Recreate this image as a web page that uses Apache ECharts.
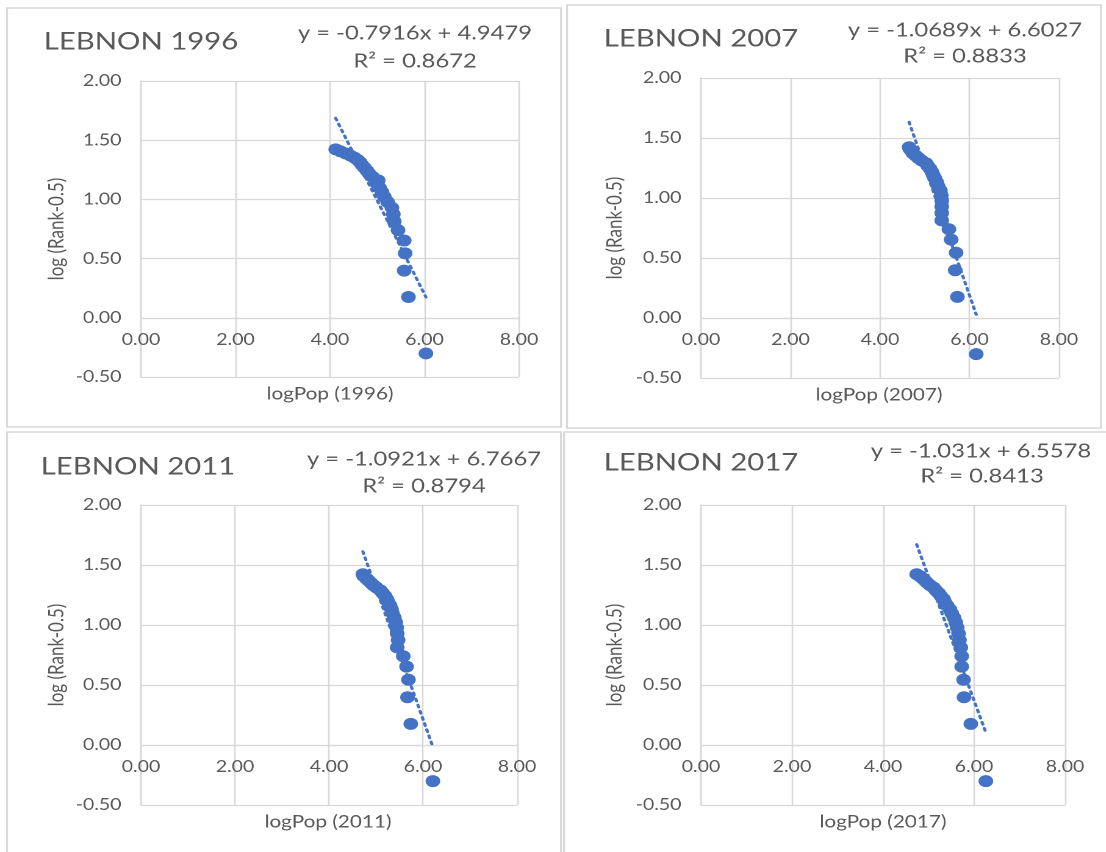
<!DOCTYPE html>
<html>
<head>
<meta charset="utf-8">
<script src="https://cdn.jsdelivr.net/npm/echarts@6/dist/echarts.min.js"></script>
<style>
html,body{margin:0;padding:0;background:#fff;overflow:hidden;}
#c{position:absolute;left:0;top:0;height:852px;transform-origin:0 0;}
</style>
</head>
<body>
<div id="c"></div>
<script>
// ---- data ----
const years = ['1996', '2007', '2011', '2017'];
const rankY = [-0.301, 0.176, 0.398, 0.544, 0.653, 0.740, 0.813, 0.875, 0.929, 0.978,
  1.021, 1.061, 1.097, 1.130, 1.161, 1.190, 1.217, 1.243, 1.267, 1.290,
  1.312, 1.332, 1.352, 1.371, 1.389, 1.407, 1.423];
const x1996 = [6.03, 5.66, 5.57, 5.59, 5.57, 5.44, 5.36, 5.34, 5.31, 5.22,
  5.15, 5.10, 5.05, 5.00, 5.02, 4.90, 4.83, 4.78, 4.73, 4.68,
  4.64, 4.59, 4.52, 4.43, 4.33, 4.22, 4.12];
const x2007 = [6.15, 5.73, 5.68, 5.70, 5.59, 5.54, 5.38, 5.38, 5.38, 5.38,
  5.37, 5.35, 5.30, 5.27, 5.23, 5.19, 5.16, 5.12, 5.07, 5.03,
  4.93, 4.86, 4.80, 4.74, 4.71, 4.67, 4.65];
const x2011 = [6.21, 5.74, 5.67, 5.69, 5.65, 5.58, 5.45, 5.47, 5.45, 5.44,
  5.42, 5.39, 5.35, 5.33, 5.30, 5.26, 5.23, 5.19, 5.14, 5.09,
  5.01, 4.94, 4.89, 4.84, 4.79, 4.74, 4.72];
const x2017 = [6.26, 5.93, 5.78, 5.77, 5.73, 5.73, 5.71, 5.68, 5.66, 5.63,
  5.60, 5.56, 5.51, 5.47, 5.41, 5.36, 5.33, 5.27, 5.22, 5.16,
  5.11, 5.03, 4.97, 4.92, 4.87, 4.81, 4.74];
const slopes = [-0.7916, -1.0689, -1.0921, -1.031];
const intercepts = [4.9479, 6.6027, 6.7667, 6.5578];
const r2Text = ['0.8672', '0.8833', '0.8794', '0.8413'];
const slopeText = ['-0.7916', '-1.0689', '-1.0921', '-1.031'];
const interceptText = ['4.9479', '6.6027', '6.7667', '6.5578'];
const xSets = [x1996, x2007, x2011, x2017];
const Y_MIN = -0.5, Y_MAX = 2, Y_STEP = 0.5;
const X_MIN = 0, X_MAX = 8, X_STEP = 2;

// ---- layout (reference pixels) ----
const S = 1.22; // horizontal stretch of the reference picture
const layout = [
  {l:141, r:519, t:81, b:377, title:[141,42], eq:[415,33], r2:[415,61], xt:[330,394], yt:[57,229], box:[7,8,561,427]},
  {l:701, r:1059, t:78, b:378, title:[701,39], eq:[965,30], r2:[965,56], xt:[879,395], yt:[615,228], box:[567,5,1101,428]},
  {l:141, r:517, t:505, b:805, title:[138,467], eq:[424,459], r2:[424,486], xt:[328,822], yt:[57,655], box:[7,432,561,870]},
  {l:701, r:1065, t:505, b:805, title:[701,463], eq:[981,451], r2:[982,476], xt:[883,822], yt:[615,655], box:[564,432,1120,870]}
];

const FONT = 'Lato';
const TXT = '#595959';
const GRID = '#d9d9d9';
const BLUE = '#4472C4';

const dom = document.getElementById('c');
dom.style.width = (1106 / S) + 'px';
dom.style.transform = 'scaleX(' + S + ')';

const option = {animation:false, backgroundColor:'#fff', grid:[], xAxis:[], yAxis:[], series:[], graphic:[]};

layout.forEach((p, i) => {
  option.graphic.push({type:'rect', silent:true, z:-10,
    shape:{x:p.box[0]/S, y:p.box[1], width:(p.box[2]-p.box[0])/S, height:p.box[3]-p.box[1]},
    style:{fill:'#fff', stroke:GRID, lineWidth:1.6}});
  option.graphic.push({type:'text', x:p.title[0]/S, y:p.title[1],
    style:{text:'LEBNON ' + years[i], fill:TXT, font:'24px ' + FONT, align:'center', verticalAlign:'middle'}});
  option.graphic.push({type:'text', x:p.eq[0]/S, y:p.eq[1],
    style:{text:'y = ' + slopeText[i] + 'x + ' + interceptText[i], fill:TXT, font:'19.5px ' + FONT, align:'center', verticalAlign:'middle'}});
  option.graphic.push({type:'text', x:p.r2[0]/S, y:p.r2[1],
    style:{text:'R² = ' + r2Text[i], fill:TXT, font:'19.5px ' + FONT, align:'center', verticalAlign:'middle'}});
  option.graphic.push({type:'text', x:p.xt[0]/S, y:p.xt[1],
    style:{text:'logPop (' + years[i] + ')', fill:TXT, font:'17px ' + FONT, align:'center', verticalAlign:'middle'}});
  option.graphic.push({type:'text', x:p.yt[0]/S, y:p.yt[1], rotation:Math.PI/2,
    style:{text:'log (Rank-0.5)', fill:TXT, font:'17px ' + FONT, align:'center', verticalAlign:'middle'}});

  const h = p.b - p.t;
  option.grid.push({left:p.l/S, top:p.t, width:(p.r-p.l)/S, height:h, containLabel:false});
  // x axis crosses the value axis at y = 0
  option.xAxis.push({type:'value', gridIndex:i, min:X_MIN, max:X_MAX, interval:X_STEP,
    position:'bottom', offset: -h * (0 - Y_MIN) / (Y_MAX - Y_MIN),
    axisLine:{show:true, onZero:false, lineStyle:{color:GRID, width:1.3}},
    axisTick:{show:false},
    splitLine:{show:true, lineStyle:{color:GRID, width:1.3}},
    axisLabel:{formatter:v => v.toFixed(2), color:TXT, fontSize:16, fontFamily:FONT, margin:14, showMinLabel:true, showMaxLabel:true}});
  option.yAxis.push({type:'value', gridIndex:i, min:Y_MIN, max:Y_MAX, interval:Y_STEP,
    axisLine:{show:true, onZero:false, lineStyle:{color:GRID, width:1.3}},
    axisTick:{show:false},
    splitLine:{show:true, lineStyle:{color:GRID, width:1.3}},
    axisLabel:{formatter:v => v.toFixed(2), color:TXT, fontSize:16, fontFamily:FONT, margin:16, showMinLabel:true, showMaxLabel:true}});

  const xs = xSets[i];
  option.series.push({type:'scatter', xAxisIndex:i, yAxisIndex:i, symbol:'circle', symbolSize:12,
    itemStyle:{color:BLUE, opacity:1}, z:2,
    data: xs.map((x, j) => [x, rankY[j]])});
  const xmin = Math.min(...xs), xmax = Math.max(...xs);
  option.series.push({type:'line', xAxisIndex:i, yAxisIndex:i, showSymbol:false, symbol:'none', z:3,
    lineStyle:{color:BLUE, width:2.6, type:[2.2, 4.2], cap:'round'},
    data:[[xmin, slopes[i]*xmin + intercepts[i]], [xmax, slopes[i]*xmax + intercepts[i]]]});
});

const chart = echarts.init(dom, null, {renderer:'canvas', devicePixelRatio:2});
chart.setOption(option);
</script>
</body>
</html>
